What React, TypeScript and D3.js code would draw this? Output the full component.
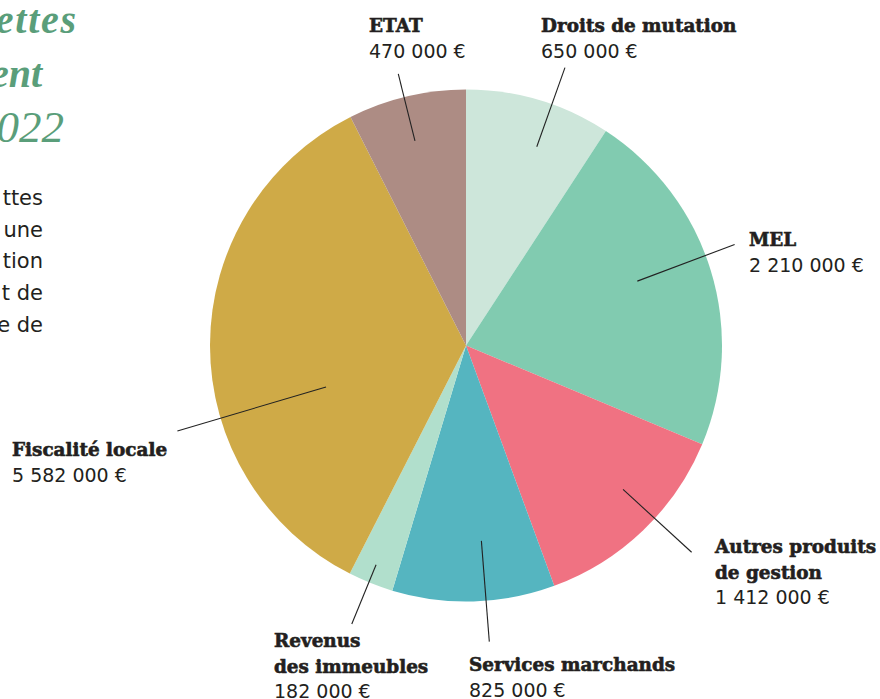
import React from "react";
import * as d3 from "d3";

// ---- data ----
const categories = [
  "Droits de mutation",
  "MEL",
  "Autres produits de gestion",
  "Services marchands",
  "Revenus des immeubles",
  "Fiscalité locale",
  "ETAT",
];
const labelLines = [
  ["Droits de mutation"],
  ["MEL"],
  ["Autres produits", "de gestion"],
  ["Services marchands"],
  ["Revenus", "des immeubles"],
  ["Fiscalité locale"],
  ["ETAT"],
];
const amounts = [650000, 2210000, 1412000, 825000, 182000, 5582000, 470000];
// share of the circle as drawn in the picture (percent)
const sliceShares = [9.2, 22.1, 13.1, 10.25, 2.85, 35.05, 7.45];
const colors = ["#cde6da", "#81cbb0", "#f07282", "#55b5c0", "#b1dfcc", "#cfaa47", "#ad8c84"];

// visible parts of the title and intro text (cut by the left edge in the picture)
const titleLines = ["ettes", "ent", "022"];
const bodyLines = ["ttes", "une", "tion", "t de", "e de"];

// ---- layout ----
const W = 880;
const H = 699;
const cx = 466;
const cy = 345.5;
const R = 256;
// leader lines in polar terms: angle (deg clockwise from top), inner r, outer r
const leaders = [
  { a: 19.6, r1: 211, r2: 295 },
  { a: 69.4, r1: 183, r2: 287 },
  { a: 132.5, r1: 213, r2: 306 },
  { a: 175.5, r1: 196, r2: 297 },
  { a: 202.3, r1: 237, r2: 301 },
  { a: 253.5, r1: 146, r2: 301 },
  { a: 346.0, r1: 211, r2: 280 },
];
const labelPos = [
  { x: 541, y: 32 },
  { x: 749, y: 246 },
  { x: 715, y: 553 },
  { x: 469, y: 671 },
  { x: 274, y: 647 },
  { x: 12, y: 456 },
  { x: 369, y: 32 },
];

const frLocale = d3.formatLocale({
  decimal: ",",
  thousands: " ",
  grouping: [3],
  currency: ["", " €"],
});
const fmt = frLocale.format(",");

const BOLD_FONT = "'DejaVu Serif', serif";
const NUM_FONT = "'DejaVu Sans', sans-serif";
const INK = "#231f20";

function polar(aDeg: number, r: number): [number, number] {
  const a = (aDeg * Math.PI) / 180;
  return [cx + r * Math.sin(a), cy - r * Math.cos(a)];
}

export default function App() {
  const pie = d3
    .pie<number>()
    .sort(null)
    .value((d) => d);
  const arcs = pie(sliceShares);
  const arc = d3.arc<d3.PieArcDatum<number>>().innerRadius(0).outerRadius(R);

  const lineH = 25.5;

  return (
    <svg
      width={W}
      height={H}
      style={{ position: "absolute", left: 0, top: 0, background: "#fff", overflow: "hidden" }}
    >
      <rect width={W} height={H} fill="#fff" />
      {/* title (cropped in the picture) */}
      <g
        fill="#5a9e7a"
        fontFamily="'Liberation Serif', serif"
        fontStyle="italic"
        fontWeight="bold"
        textAnchor="end"
      >
        <text x={78} y={33} fontSize={40} letterSpacing={1.8}>{titleLines[0]}</text>
        <text x={42} y={87} fontSize={40}>{titleLines[1]}</text>
        <text x={64} y={142} fontSize={45} fontWeight="normal">{titleLines[2]}</text>
      </g>
      {/* intro text (cropped in the picture) */}
      <g fill={INK} fontFamily={NUM_FONT} fontSize={21} textAnchor="end">
        {bodyLines.map((t, i) => (
          <text key={i} x={43} y={205 + i * 31.7}>
            {t}
          </text>
        ))}
      </g>
      {/* pie */}
      <g transform={`translate(${cx},${cy})`}>
        {arcs.map((a, i) => (
          <path key={categories[i]} d={arc(a) || ""} fill={colors[i]} />
        ))}
      </g>
      {/* leaders */}
      <g stroke="#222" strokeWidth={1.1}>
        {leaders.map((l, i) => {
          const [x1, y1] = polar(l.a, l.r1);
          const [x2, y2] = polar(l.a, l.r2);
          return <line key={i} x1={x1} y1={y1} x2={x2} y2={y2} />;
        })}
      </g>
      {/* labels */}
      {categories.map((c, i) => {
        const p = labelPos[i];
        const lines = labelLines[i];
        return (
          <g key={c} fill={INK}>
            {lines.map((t, j) => (
              <text
                key={j}
                x={p.x}
                y={p.y + j * lineH}
                fontFamily={BOLD_FONT}
                fontWeight="bold"
                fontSize={18.4}
                stroke={INK}
                strokeWidth={0.6}
              >
                {t}
              </text>
            ))}
            <text x={p.x} y={p.y + lines.length * lineH} fontFamily={NUM_FONT} fontSize={19}>
              {fmt(amounts[i]) + " €"}
            </text>
          </g>
        );
      })}
    </svg>
  );
}
